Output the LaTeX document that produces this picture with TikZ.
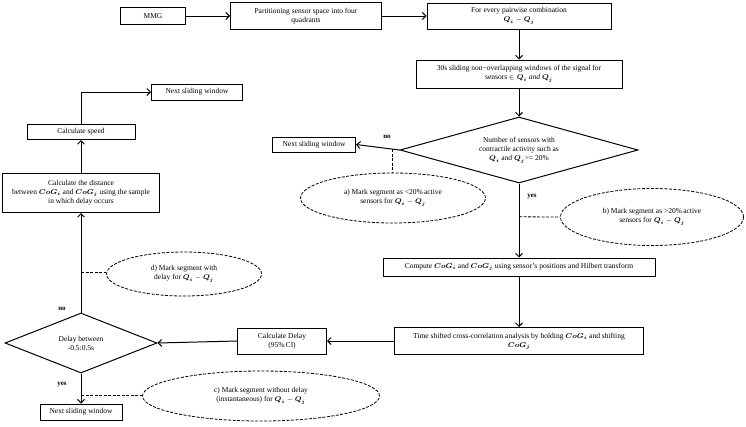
\documentclass[tikz,border=0pt]{standalone}
\usepackage{amsmath,amssymb}
\usepackage{fontspec}
\setmainfont{Liberation Serif}
\usepackage{tikz}
\usetikzlibrary{arrows.meta,positioning,calc,shapes.geometric}
\newcommand{\bQ}[1]{\boldsymbol{Q}_{\boldsymbol{#1}}}
\newcommand{\bCoG}[1]{\boldsymbol{CoG}_{\boldsymbol{#1}}}
\tikzset{
  >={Straight Barb[length=3.5pt,width=7pt]},
  % boxes
  box/.style={draw,line width=1pt,align=center,inner sep=1pt,
              font=\fontsize{7.5}{9}\selectfont},
  dec/.style={diamond,draw,line width=1pt,aspect=3.6,align=center,
              inner sep=1pt,font=\fontsize{7.5}{9}\selectfont},
  note/.style={ellipse,draw,line width=0.8pt,dash pattern=on 3pt off 1.5pt,
               align=center,inner sep=1pt,font=\fontsize{7.5}{9}\selectfont},
  % lines
  flow/.style={->,line width=1pt},
  link/.style={line width=0.8pt,dash pattern=on 3pt off 1.5pt},
  lbl/.style={font=\fontsize{7}{8}\selectfont\bfseries,inner sep=0pt},
}
\begin{document}
\begin{tikzpicture}[x=1pt,y=-1pt]
\useasboundingbox (0,0) rectangle (746,426);
  \node[box,minimum width=65,minimum height=17] (mmg) at (153,16) {MMG};
  \node[box,minimum width=151,minimum height=27] (part) at (306,16)
    {Partitioning sensor space into four\\quadrants};
  \node[box,minimum width=184,minimum height=26] (pair) at (519,16)
    {For every pairwise combination\\$\bQ{i}-\bQ{j}$};
  \node[box,minimum width=206,minimum height=28] (win) at (519,74)
    {30s sliding non−overlapping windows of the signal for\\sensors $\in \bQ{i}\ \mathit{and}\ \bQ{j}$};
  \node[dec,minimum width=238,minimum height=66] (dec1) at (519,150)
    {Number of sensors with\\contractile activity such as\\$\bQ{i}$ and $\bQ{j}$>= 20\%};
  \node[box,minimum width=83,minimum height=15] (nsw1) at (314,144.5) {Next sliding window};
  \node[note,minimum width=185,minimum height=50] (ella) at (393,198)
    {a) Mark segment as <20\%\,active\\sensors for $\bQ{i}-\bQ{j}$};
  \node[note,minimum width=183,minimum height=57] (ellb) at (652,217)
    {b) Mark segment as >20\%\,active\\sensors for $\bQ{i}-\bQ{j}$};
  \node[box,minimum width=272,minimum height=18] (comp) at (519,267)
    {Compute $\bCoG{i}$ and $\bCoG{j}$ using sensor’s positions and Hilbert transform};
  \node[box,minimum width=249,minimum height=27] (tscc) at (519,341)
    {Time shifted cross-correlation analysis by holding $\bCoG{i}$ and shifting\\$\bCoG{j}$};
  \node[box,minimum width=89,minimum height=26] (delay) at (282,341)
    {Calculate Delay\\(95\%\,CI)};
  \node[dec,minimum width=152,minimum height=60] (dec2) at (81,343)
    {Delay between\\-0.5:0.5s};
  \node[box,minimum width=82,minimum height=16] (nsw3) at (81,412) {Next sliding window};
  \node[note,minimum width=237,minimum height=50] (ellc) at (261,396)
    {c) Mark segment without delay\\(instantaneous) for $\bQ{i}-\bQ{j}$};
  \node[note,minimum width=155,minimum height=44] (elld) at (184,274)
    {d) Mark segment with\\delay for $\bQ{i}-\bQ{j}$};
  \node[box,minimum width=157,minimum height=39] (dist) at (81,193)
    {Calculate the distance\\between $\bCoG{i}$ and $\bCoG{j}$ using the sample\\in which delay occurs};
  \node[box,minimum width=108,minimum height=15] (speed) at (81,132) {Calculate speed};
  \node[box,minimum width=91,minimum height=16] (nsw2) at (197,92) {Next sliding window};
  % labels
  \node[lbl] (no1) at (387,137) {no};
  \node[lbl] (yes1) at (532,197) {yes};
  \node[lbl] (no2) at (62,309) {no};
  \node[lbl] (yes2) at (62,385) {yes};
  % main flow
  \draw[flow] (mmg) -- (part);
  \draw[flow] (part) -- (pair);
  \draw[flow] (pair) -- (win);
  \draw[flow] (win) -- (dec1);
  \draw[flow] (dec1.west) -- (nsw1.east);
  \draw[flow] (dec1.south) -- (comp.north);
  \draw[flow] (comp) -- (tscc);
  \draw[flow] (tscc.west) -- (delay.east);
  \draw[flow] (delay.west) -- (dec2.east);
  \draw[flow] (dec2.south) -- (nsw3.north);
  \draw[flow] (dec2.north) -- (dist.south);
  \draw[flow] (dist) -- (speed);
  \draw[flow] (speed.north) |- (nsw2.west);
  % notes
  \coordinate (ja) at ($(dec1.west)!0.16!(nsw1.east)$);
  \coordinate (jb) at ($(dec1.south)!0.45!(comp.north)$);
  \coordinate (jc) at ($(dec2.south)!0.74!(nsw3.north)$);
  \coordinate (jd) at ($(dec2.north)!0.4!(dist.south)$);
  \draw[link] (ja) -- (ja |- ella.north);
  \draw[link] (jb) -- (ellb.west);
  \draw[link] (jc) -- (jc -| ellc.west);
  \draw[link] (jd) -- (jd -| elld.west);
\end{tikzpicture}
\end{document}
